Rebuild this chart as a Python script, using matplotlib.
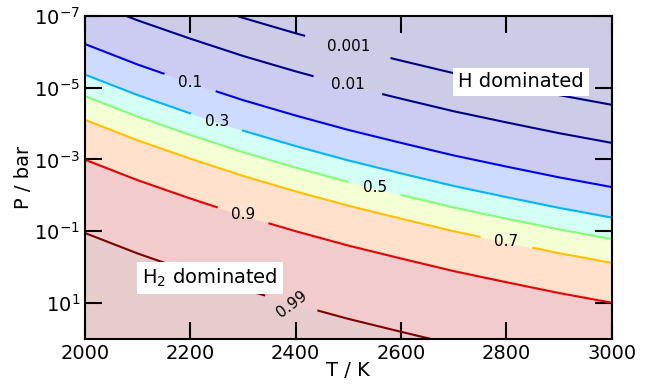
import numpy as np
import matplotlib.pyplot as plt

# temperatures (K) at which the contour lines were read
T = np.array([2000, 2100, 2200, 2300, 2400, 2500, 2600, 2700, 2800, 2900, 3000])

# log10(P / bar) along each H2-fraction contour
logp_0001 = [-8.50, -7.93, -7.42, -6.94, -6.51, -6.11, -5.75, -5.40, -5.09, -4.79, -4.52]
logp_001 = [-7.44, -6.87, -6.36, -5.88, -5.45, -5.05, -4.69, -4.34, -4.03, -3.73, -3.46]
logp_01 = [-6.21, -5.64, -5.13, -4.65, -4.22, -3.82, -3.46, -3.11, -2.80, -2.50, -2.23]
logp_03 = [-5.36, -4.79, -4.28, -3.80, -3.37, -2.97, -2.61, -2.26, -1.95, -1.65, -1.38]
logp_05 = [-4.76, -4.19, -3.68, -3.20, -2.77, -2.37, -2.01, -1.66, -1.35, -1.05, -0.78]
logp_07 = [-4.10, -3.53, -3.02, -2.54, -2.11, -1.71, -1.35, -1.00, -0.69, -0.39, -0.12]
logp_09 = [-2.99, -2.42, -1.91, -1.43, -1.00, -0.60, -0.24, 0.11, 0.42, 0.72, 0.99]
logp_099 = [-0.95, -0.38, 0.13, 0.61, 1.04, 1.44, 1.80, 2.15, 2.46, 2.76, 3.03]

levels = [0.001, 0.01, 0.1, 0.3, 0.5, 0.7, 0.9, 0.99]
level_text = ["0.001", "0.01", "0.1", "0.3", "0.5", "0.7", "0.9", "0.99"]
lines = [logp_0001, logp_001, logp_01, logp_03, logp_05, logp_07, logp_09, logp_099]

# where each label sits and where the line is broken for it
label_T = [2500, 2500, 2200, 2250, 2550, 2800, 2300, 2392]
label_logp = [-6.14, -5.08, -5.15, -4.06, -2.21, -0.72, -1.46, 1.04]
label_rot = [0, 0, 0, 0, 0, 0, 0, 37]
gap_lo = [2416, 2432, 2149, 2199, 2498, 2749, 2250, 2340]
gap_hi = [2582, 2566, 2250, 2300, 2601, 2851, 2350, 2443]

band_edges = [0, 0.001, 0.01, 0.1, 0.3, 0.5, 0.7, 0.9, 0.99, 1]

cmap = plt.get_cmap("jet")

fig = plt.figure(figsize=(6.56, 3.84), dpi=100)
ax = fig.add_axes([0.1296, 0.1172, 0.8029, 0.8419])
ax.set_yscale("log")

# filled bands: each band painted from its upper contour downwards
for k in range(len(band_edges) - 1):
    mid = 0.5 * (band_edges[k] + band_edges[k + 1])
    col = 0.8 + 0.2 * np.array(cmap(mid)[:3])
    if k == 0:
        top = np.full(len(T), 1e-9)
    else:
        top = 10.0 ** np.array(lines[k - 1])
    ax.fill_between(T, top, 1e3, color=col, linewidth=0, zorder=0)

# contour lines with a break at the label
lnorm = plt.Normalize(levels[0], levels[-1])
for i, lp in enumerate(lines):
    lp = np.array(lp)
    col = cmap(lnorm(levels[i]))
    lo, hi = gap_lo[i], gap_hi[i]
    left = T < lo
    right = T > hi
    xl = np.append(T[left], lo)
    yl = np.append(lp[left], np.interp(lo, T, lp))
    xr = np.insert(T[right], 0, hi)
    yr = np.insert(lp[right], 0, np.interp(hi, T, lp))
    ax.plot(xl, 10.0 ** yl, color=col, lw=1.5, zorder=2)
    ax.plot(xr, 10.0 ** yr, color=col, lw=1.5, zorder=2)
    ax.text(label_T[i], 10.0 ** label_logp[i], level_text[i], fontsize=11,
            ha="center", va="center", rotation=label_rot[i], zorder=3)

ax.text(2828, 6.95e-6, "H dominated", fontsize=14, ha="center", va="center",
        bbox=dict(facecolor="white", edgecolor="none", pad=3.5), zorder=4)
ax.text(2237, 1.97, "H$_2$ dominated", fontsize=14, ha="center", va="center",
        bbox=dict(facecolor="white", edgecolor="none", pad=3.5), zorder=4)

ax.set_xlim(2000, 3000)
ax.set_ylim(1e2, 1e-7)
ax.set_xticks([2000, 2200, 2400, 2600, 2800, 3000])
ax.set_yticks([1e-7, 1e-5, 1e-3, 1e-1, 1e1])
ax.minorticks_off()
ax.tick_params(direction="in", length=12, width=1.5, top=True, right=True,
               labelsize=14)
for s in ax.spines.values():
    s.set_linewidth(1.5)
ax.set_xlabel("T / K", fontsize=14, labelpad=-1)
ax.set_ylabel("P / bar", fontsize=14, labelpad=1)

fig.savefig("out.png", dpi=100)
